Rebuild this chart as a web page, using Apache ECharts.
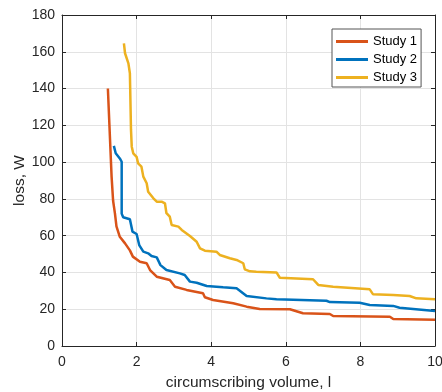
<!DOCTYPE html>
<html>
<head>
<meta charset="utf-8">
<script src="https://cdn.jsdelivr.net/npm/echarts@6/dist/echarts.min.js"></script>
<style>html,body{margin:0;padding:0;background:#fff}#c{width:442px;height:392px}</style>
</head>
<body>
<div id="c"></div>
<script>
const seriesNames = ['Study 1', 'Study 2', 'Study 3'];
const xTicks = [0, 2, 4, 6, 8, 10];
const yTicks = [0, 20, 40, 60, 80, 100, 120, 140, 160, 180];

const study1X = [1.23, 1.33, 1.37, 1.42, 1.46, 1.55, 1.69, 1.82, 1.90, 2.09, 2.27, 2.36, 2.54, 2.89, 3.03, 3.34, 3.78, 3.83, 4.05, 4.59, 4.95, 5.30, 6.11, 6.46, 7.18, 7.27, 8.79, 8.88, 10.0];
const study1Y = [140, 92, 79, 72, 65, 59.4, 55.8, 52, 48.6, 45.8, 45, 41.3, 37.7, 35.9, 32.2, 30.5, 28.7, 26.5, 25, 23.2, 21.4, 20.1, 20, 17.8, 17.4, 16.3, 15.9, 14.7, 14.3];

const study2X = [1.39, 1.44, 1.55, 1.60, 1.60, 1.64, 1.82, 1.89, 2.0, 2.07, 2.18, 2.31, 2.4, 2.54, 2.64, 2.8, 3.16, 3.29, 3.43, 3.61, 3.88, 4.14, 4.32, 4.68, 4.95, 5.48, 5.75, 7.09, 7.18, 7.98, 8.25, 8.88, 9.05, 10.0];
const study2Y = [108.8, 104.8, 102, 100.2, 72, 70, 68.9, 62.2, 60.9, 54.9, 51.3, 50.4, 48.9, 48.2, 44, 41.3, 39.5, 38.6, 35, 34.4, 32.6, 32.2, 31.9, 31.4, 27.2, 25.9, 25.4, 24.6, 23.9, 23.5, 22.3, 21.8, 20.8, 19.0];

const study3X = [1.66, 1.69, 1.78, 1.82, 1.85, 1.87, 1.91, 2.0, 2.04, 2.13, 2.18, 2.27, 2.31, 2.45, 2.54, 2.67, 2.76, 2.8, 2.89, 2.94, 3.12, 3.21, 3.43, 3.61, 3.7, 3.83, 4.14, 4.23, 4.5, 4.68, 4.86, 4.9, 5.04, 5.21, 5.75, 5.84, 6.73, 6.87, 7.27, 8.25, 8.34, 8.88, 9.32, 9.5, 10.0];
const study3Y = [164.6, 159.2, 153.7, 148.3, 117.5, 108.4, 104.8, 102.9, 99.3, 97.5, 92.1, 88.5, 83.9, 80.3, 78.5, 78.5, 77.6, 72.2, 70.3, 65.8, 64.9, 63.1, 59.8, 56.7, 53.1, 51.8, 51.3, 49.5, 47.7, 46.8, 45, 41.7, 40.6, 40.4, 40, 37.1, 36.3, 33.2, 32.2, 30.8, 28.1, 27.7, 27.2, 25.9, 25.4];

const colors = ['#D95319', '#0072BD', '#EDB120'];
const zip = (xs, ys) => xs.map((x, i) => [x, ys[i]]);
const allData = [zip(study1X, study1Y), zip(study2X, study2Y), zip(study3X, study3Y)];

const axisCol = '#262626';
const font = 'Liberation Sans, Arial, Helvetica, sans-serif';

const baseX = {
  type: 'value', min: xTicks[0], max: xTicks[xTicks.length - 1], interval: 2,
  axisLine: { show: true, onZero: false, lineStyle: { color: axisCol, width: 1 } },
  axisTick: { show: true, inside: true, length: 4, lineStyle: { color: axisCol } },
};
const baseY = {
  type: 'value', min: yTicks[0], max: yTicks[yTicks.length - 1], interval: 20,
  axisLine: { show: true, onZero: false, lineStyle: { color: axisCol, width: 1 } },
  axisTick: { show: true, inside: true, length: 4, lineStyle: { color: axisCol } },
};

const chart = echarts.init(document.getElementById('c'), null, { renderer: 'canvas' });
chart.setOption({
  animation: false,
  backgroundColor: '#fff',
  grid: { left: 62, right: 7, top: 15, bottom: 46, containLabel: false, outerBoundsMode: 'none' },
  xAxis: [
    Object.assign({}, baseX, {
      position: 'bottom',
      name: 'circumscribing volume, l', nameLocation: 'middle', nameGap: 29, nameMoveOverlap: false,
      nameTextStyle: { color: axisCol, fontSize: 15.5, fontFamily: font },
      axisLabel: { color: axisCol, fontSize: 14, fontFamily: font, margin: 9 },
      splitLine: { show: true, lineStyle: { color: '#e3e3e3', width: 1 } }
    }),
    Object.assign({}, baseX, {
      position: 'top', axisLabel: { show: false }, splitLine: { show: false }
    })
  ],
  yAxis: [
    Object.assign({}, baseY, {
      position: 'left',
      name: 'loss, W', nameLocation: 'middle', nameGap: 34, nameMoveOverlap: false,
      nameTextStyle: { color: axisCol, fontSize: 15.5, fontFamily: font },
      axisLabel: { color: axisCol, fontSize: 14, fontFamily: font, margin: 7 },
      splitLine: { show: true, lineStyle: { color: '#e3e3e3', width: 1 } }
    }),
    Object.assign({}, baseY, {
      position: 'right', axisLabel: { show: false }, splitLine: { show: false }
    })
  ],
  legend: {
    show: true, orient: 'vertical', left: 332, top: 29,
    backgroundColor: '#fff', borderColor: '#555', borderWidth: 1,
    padding: [6, 4, 3, 4], icon: 'rect', itemWidth: 32, itemHeight: 3, itemGap: 5, itemTextGap: 3,
    textStyle: { color: '#000', fontSize: 13, fontFamily: font },
    data: seriesNames
  },
  series: seriesNames.map((n, i) => ({
    name: n, type: 'line', xAxisIndex: 0, yAxisIndex: 0,
    data: allData[i], symbol: 'none', showSymbol: false,
    lineStyle: { color: colors[i], width: 2.5 },
    itemStyle: { color: colors[i] },
    z: 3 + i
  }))
});
</script>
</body>
</html>
